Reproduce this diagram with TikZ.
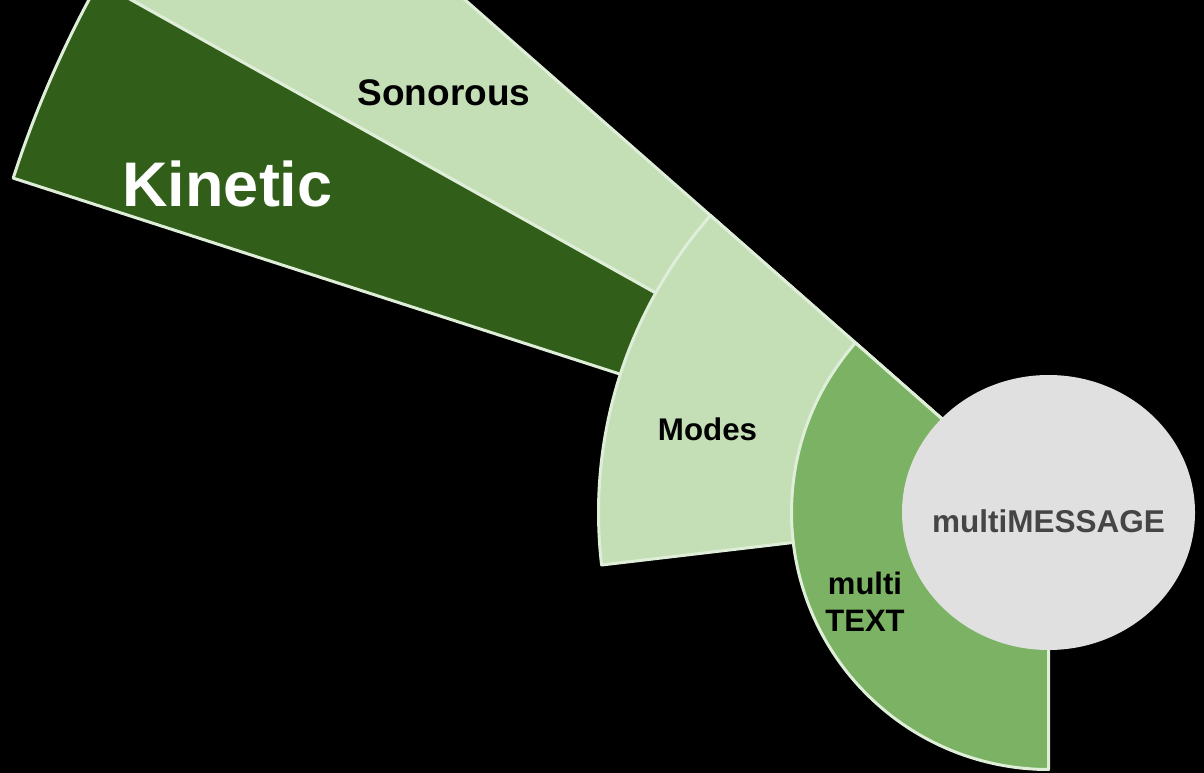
\documentclass[tikz,border=0pt]{standalone}
\usepackage{fontspec}
\setmainfont{Liberation Sans}
\definecolor{darkleaf}{HTML}{315E18}
\definecolor{paleleaf}{HTML}{C4DEB6}
\definecolor{midleaf}{HTML}{7BB263}
\definecolor{rimleaf}{HTML}{DFEED8}
\definecolor{hubgray}{HTML}{E0E0E0}
\definecolor{hubtext}{HTML}{454545}
\begin{document}
\begin{tikzpicture}[x=1pt,y=1pt,
  seg/.style={draw=rimleaf, line width=3pt, line join=round},
  lbl/.style={font=\bfseries, inner sep=0pt, anchor=base}]
% canvas
\fill[black] (0,0) rectangle (1204,-773);
\useasboundingbox (0,0) rectangle (1204,-773);
\clip (0,0) rectangle (1204,-773);
\coordinate (hub) at (1048.5,-512.5);
% outer ring: Sonorous
\filldraw[seg, fill=paleleaf] (hub) -- ++(138.7:1400pt)
  arc[start angle=138.7, end angle=150.8, radius=1400pt] -- cycle;
% outer ring: Kinetic
\filldraw[seg, fill=darkleaf] (hub) -- ++(150.8:1088pt)
  arc[start angle=150.8, end angle=162.1, radius=1088pt] -- cycle;
% middle ring: Modes
\filldraw[seg, fill=paleleaf] (hub) -- ++(138.7:450pt)
  arc[start angle=138.7, end angle=186.7, radius=450pt] -- cycle;
% inner ring: multi TEXT
\filldraw[seg, fill=midleaf] (hub) -- ++(138.7:257pt)
  arc[start angle=138.7, end angle=270, radius=257pt] -- cycle;
% centre
\fill[hubgray] (hub) ellipse[x radius=146.5pt, y radius=137.5pt];
% labels
\node[lbl, font=\bfseries\fontsize{37}{44}\selectfont] (sonorous) at (444,-106) {Sonorous};
\node[lbl, text=white, font=\bfseries\fontsize{63}{72}\selectfont] (kinetic) at (227.5,-206) {Kinetic};
\node[lbl, font=\bfseries\fontsize{31.3}{37}\selectfont] (modes) at (707.5,-440) {Modes};
\node[inner sep=0pt, align=center, font=\bfseries\fontsize{31}{37}\selectfont] (multitext) at (865,-602) {multi\\TEXT};
\node[lbl, text=hubtext, font=\bfseries\fontsize{31.5}{37}\selectfont] (message) at (1048.5,-532) {multiMESSAGE};
\end{tikzpicture}
\end{document}
